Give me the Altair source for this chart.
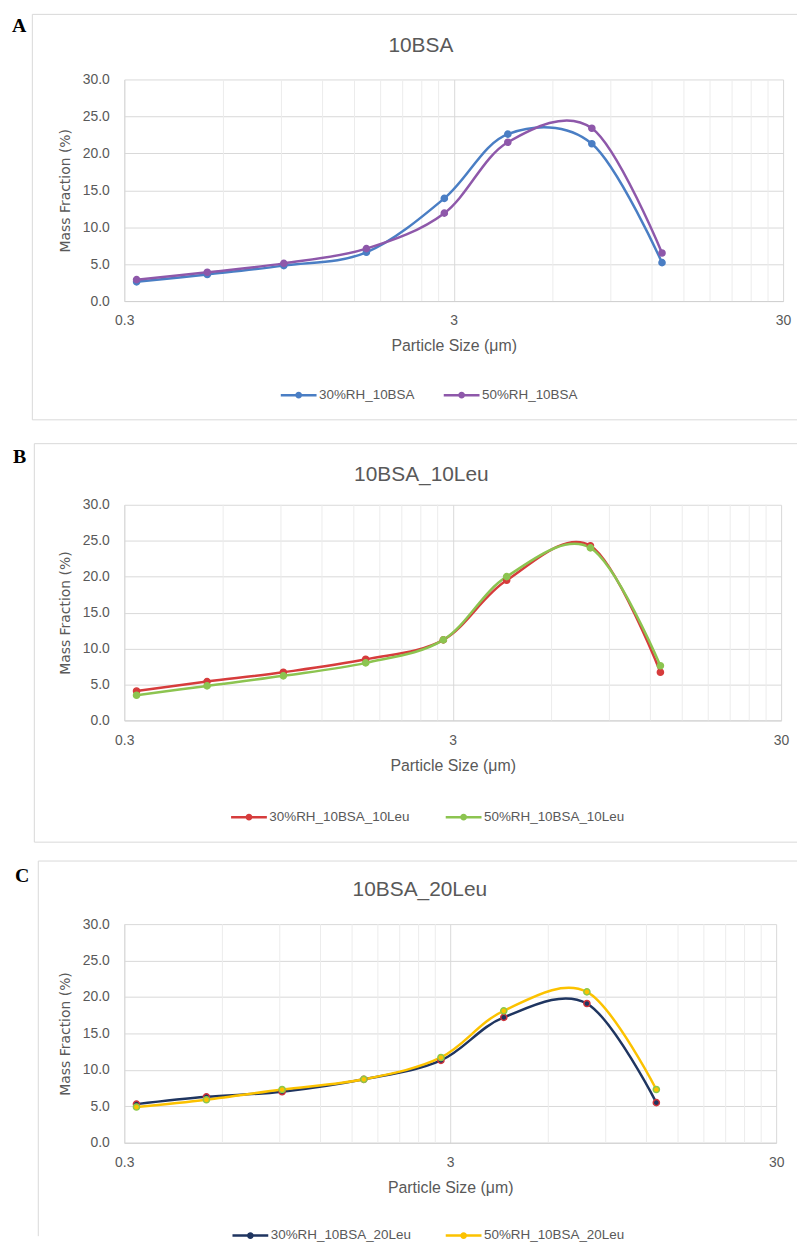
import altair as alt
import pandas as pd

# ---- data ----
sizes = [0.327, 0.536, 0.915, 1.63, 2.81, 4.38, 7.88, 12.87]

a_names = ["30%RH_10BSA", "50%RH_10BSA"]
a_30 = [2.6, 3.6, 4.8, 6.6, 13.9, 22.6, 21.3, 5.2]
a_50 = [2.9, 3.9, 5.1, 7.1, 11.9, 21.5, 23.4, 6.5]

b_names = ["30%RH_10BSA_10Leu", "50%RH_10BSA_10Leu"]
b_30 = [4.1, 5.4, 6.7, 8.5, 11.2, 19.5, 24.3, 6.7]
b_50 = [3.5, 4.8, 6.2, 8.0, 11.2, 20.0, 24.0, 7.6]

c_names = ["30%RH_10BSA_20Leu", "50%RH_10BSA_20Leu"]
c_30 = [5.3, 6.3, 7.0, 8.7, 11.3, 17.2, 19.1, 5.5]
c_50 = [4.9, 5.9, 7.3, 8.7, 11.7, 18.1, 20.7, 7.3]

x_ticks = [0.3, 3, 30]
minor_grid = [0.6, 0.9, 1.2, 1.5, 1.8, 2.1, 2.4, 2.7, 6, 9, 12, 15, 18, 21, 24, 27]
y_ticks = [0, 5, 10, 15, 20, 25, 30]

GRAY = "#595959"
SANS = "Liberation Sans"
LEG_PATH = "M-1,0L1,0M-0.12,0A0.12,0.12,0,1,1,0.12,0A0.12,0.12,0,1,1,-0.12,0"
one = pd.DataFrame({"k": [0]})
RIGHT = 677  # right end of the frame lines, relative to the plot origin


def panel(letter, title, names, s1, s2, line_colors, edge_colors, w, h, d, anchor=False):
    df = pd.DataFrame({
        "size": sizes + sizes,
        "frac": s1 + s2,
        "series": [names[0]] * len(s1) + [names[1]] * len(s2),
    })
    xs = alt.Scale(type="log", domain=[0.3, 30], nice=False)
    ys = alt.Scale(domain=[0, 30], nice=False)
    xaxis = alt.Axis(values=x_ticks, format="~g", title="Particle Size (μm)", grid=True,
                     gridColor="#d9d9d9", ticks=False, domainColor="#d0d0d0",
                     labelFont=SANS, labelFontSize=14, labelColor=GRAY, labelPadding=13,
                     labelFlush=False, titleFont=SANS, titleFontSize=16, titleColor=GRAY,
                     titleFontWeight="normal", titlePadding=10)
    yaxis = alt.Axis(values=y_ticks, format=".1f", title="Mass Fraction (%)", grid=True,
                     gridColor="#d9d9d9", ticks=False, domainColor="#d9d9d9",
                     labelFont=SANS, labelFontSize=14, labelColor=GRAY, labelPadding=15,
                     labelFlush=False, titleFont="DejaVu Sans", titleFontSize=14,
                     titleColor=GRAY, titleFontWeight="normal", titlePadding=10)
    legend = alt.Legend(orient="none", legendX=d["lx"], legendY=d["ly"], direction="horizontal",
                        title=None, symbolType=LEG_PATH, symbolSize=1296, symbolStrokeWidth=2.5,
                        labelFont=SANS, labelFontSize=13.5, labelColor=GRAY, labelOffset=1,
                        columnPadding=d["cp"], labelLimit=400, padding=0)

    minor = alt.Chart(pd.DataFrame({"v": minor_grid})).mark_rule(
        color="#ececec", strokeWidth=1).encode(x=alt.X("v:Q", scale=xs, axis=xaxis))
    lines = alt.Chart(df).mark_line(interpolate="cardinal", strokeWidth=2.5).encode(
        x=alt.X("size:Q", scale=xs, axis=xaxis),
        y=alt.Y("frac:Q", scale=ys, axis=yaxis),
        color=alt.Color("series:N", scale=alt.Scale(domain=names, range=line_colors), legend=legend),
    )
    pts = alt.Chart(df).mark_point(filled=True, size=38, strokeWidth=1.5, opacity=1).encode(
        x=alt.X("size:Q", scale=xs, axis=xaxis),
        y=alt.Y("frac:Q", scale=ys, axis=yaxis),
        fill=alt.Fill("series:N", scale=alt.Scale(domain=names, range=line_colors), legend=None),
        stroke=alt.Stroke("series:N", scale=alt.Scale(domain=names, range=edge_colors), legend=None),
    )
    border = "#d9d9d9"
    layers = [minor, lines, pts]
    layers.append(alt.Chart(one).mark_rule(color=border, strokeWidth=1).encode(
        x=alt.value(d["bx"]), y=alt.value(d["bt"]), y2=alt.value(d["bb"])))
    layers.append(alt.Chart(one).mark_rule(color=border, strokeWidth=1).encode(
        x=alt.value(d["bx"]), x2=alt.value(RIGHT), y=alt.value(d["bt"])))
    if d.get("bottom", True):
        layers.append(alt.Chart(one).mark_rule(color=border, strokeWidth=1).encode(
            x=alt.value(d["bx"]), x2=alt.value(RIGHT), y=alt.value(d["bb"])))
    layers.append(alt.Chart(one).mark_text(
        text=title, font=SANS, fontSize=21, color=GRAY, align="center", baseline="alphabetic"
    ).encode(x=alt.value(d["tx"]), y=alt.value(d["ty"])))
    layers.append(alt.Chart(one).mark_text(
        text=letter, font="Liberation Serif", fontSize=20, fontWeight="bold", color="black",
        align="left", baseline="alphabetic"
    ).encode(x=alt.value(d["Lx"]), y=alt.value(d["Ly"])))
    if anchor:
        layers.append(alt.Chart(one).mark_rect(color="white").encode(
            x=alt.value(-117), x2=alt.value(-116), y=alt.value(-68), y2=alt.value(-67)))
    return alt.layer(*layers).properties(width=w, height=h)


pA = panel("A", "10BSA", a_names, a_30, a_50, ["#4a7ec4", "#8e58aa"], ["#4a7ec4", "#8e58aa"],
           663, 223,
           dict(lx=156, ly=298, cp=23, bx=-92.5, bt=-65.5, bb=342.5, tx=298.5, ty=-28,
                Lx=-113, Ly=-48), anchor=True)
pB = panel("B", "10BSA_10Leu", b_names, b_30, b_50, ["#d63c3c", "#8cc450"], ["#d63c3c", "#8cc450"],
           661, 217,
           dict(lx=106, ly=294.7, cp=30, bx=-90.5, bt=-61.5, bb=339.5, tx=299, ty=-24,
                Lx=-112, Ly=-42))
pC = panel("C", "10BSA_20Leu", c_names, c_30, c_50, ["#1f3560", "#fcc200"], ["#d0343c", "#8cc84a"],
           656, 220,
           dict(lx=107.4, ly=293.7, cp=28.6, bx=-86.5, bt=-63.5, bb=314, tx=297.5, ty=-28,
                Lx=-110, Ly=-42, bottom=False))

chart = alt.vconcat(pA, pB, pC, spacing=205, bounds="flush").resolve_scale(
    color="independent", fill="independent", stroke="independent", x="independent", y="independent"
).resolve_legend(color="independent", fill="independent", stroke="independent").properties(
    padding={"left": 0, "top": 0, "right": 0, "bottom": 0},
    autosize=alt.AutoSizeParams(type="pad"),
    background="white",
).configure_view(stroke=None)

chart.save("out.html", embed_options={"renderer": "svg", "actions": False})
